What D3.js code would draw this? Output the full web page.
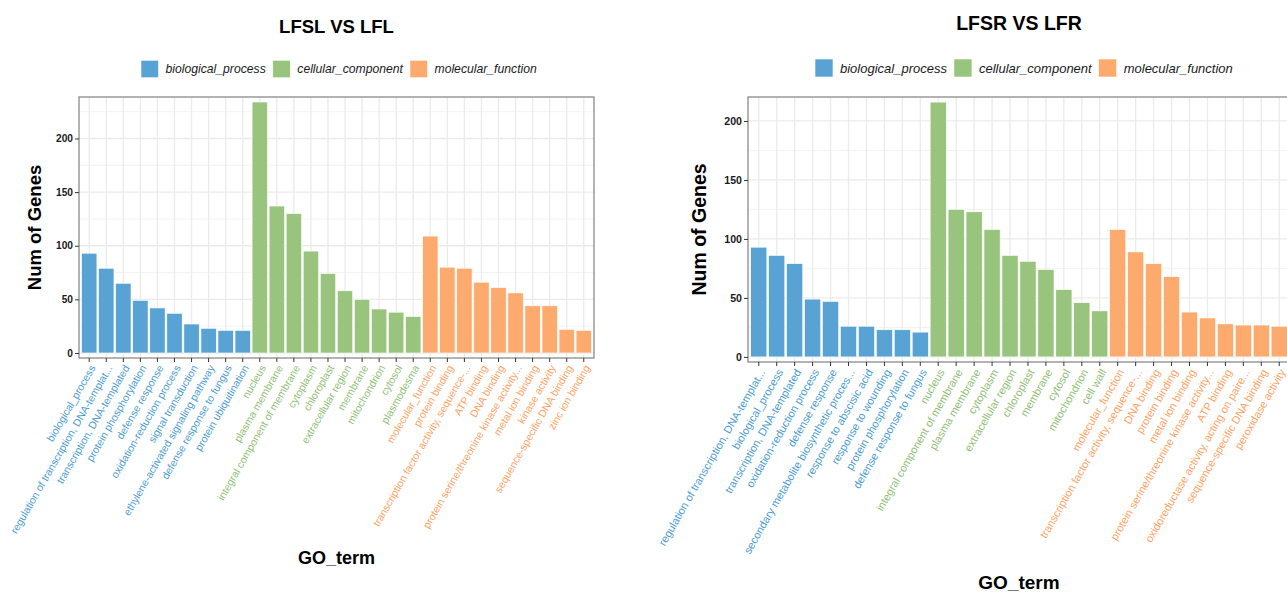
<!DOCTYPE html>
<html>
<head>
<meta charset="utf-8">
<script src="https://cdn.jsdelivr.net/npm/d3@7/dist/d3.min.js"></script>
<style>
  html, body { margin: 0; padding: 0; background: #fff; overflow: hidden; }
  svg { display: block; font-family: "Liberation Sans", Arial, Helvetica, sans-serif; }
</style>
</head>
<body>
<svg id="chart" width="1287" height="592"></svg>
<script>
// ---------------- DATA ----------------
const ontologies = ["biological_process", "cellular_component", "molecular_function"];

const titleLeft = "LFSL VS LFL";
const termsLeft = [
  "biological_process", "regulation of transcription, DNA-templat...", "transcription, DNA-templated",
  "protein phosphorylation", "defense response", "oxidation-reduction process", "signal transduction",
  "ethylene-activated signaling pathway", "defense response to fungus", "protein ubiquitination",
  "nucleus", "plasma membrane", "integral component of membrane", "cytoplasm", "chloroplast",
  "extracellular region", "membrane", "mitochondrion", "cytosol", "plasmodesma",
  "molecular_function", "protein binding", "transcription factor activity, sequence-...", "ATP binding",
  "DNA binding", "protein serine/threonine kinase activity...", "metal ion binding", "kinase activity",
  "sequence-specific DNA binding", "zinc ion binding"
];
const countsLeft = [93, 79, 65, 49, 42, 37, 27, 23, 21, 21,
                    234, 137, 130, 95, 74, 58, 50, 41, 38, 34,
                    109, 80, 79, 66, 61, 56, 44, 44, 22, 21];
const groupLeft = [
  "biological_process", "biological_process", "biological_process", "biological_process", "biological_process",
  "biological_process", "biological_process", "biological_process", "biological_process", "biological_process",
  "cellular_component", "cellular_component", "cellular_component", "cellular_component", "cellular_component",
  "cellular_component", "cellular_component", "cellular_component", "cellular_component", "cellular_component",
  "molecular_function", "molecular_function", "molecular_function", "molecular_function", "molecular_function",
  "molecular_function", "molecular_function", "molecular_function", "molecular_function", "molecular_function"
];

const titleRight = "LFSR VS LFR";
const termsRight = [
  "regulation of transcription, DNA-templat...", "biological_process", "transcription, DNA-templated",
  "oxidation-reduction process", "defense response", "secondary metabolite biosynthetic proces...",
  "response to abscisic acid", "response to wounding", "protein phosphorylation", "defense response to fungus",
  "nucleus", "integral component of membrane", "plasma membrane", "cytoplasm", "extracellular region",
  "chloroplast", "membrane", "cytosol", "mitochondrion", "cell wall",
  "molecular_function", "transcription factor activity, sequence-...", "DNA binding", "protein binding",
  "metal ion binding", "protein serine/threonine kinase activity...", "ATP binding",
  "oxidoreductase activity, acting on paire...", "sequence-specific DNA binding", "peroxidase activity"
];
const countsRight = [93, 86, 79, 49, 47, 26, 26, 23, 23, 21,
                     216, 125, 123, 108, 86, 81, 74, 57, 46, 39,
                     108, 89, 79, 68, 38, 33, 28, 27, 27, 26];
const groupRight = groupLeft.slice();

const yTicks = [0, 50, 100, 150, 200];
const yMinorTicks = [25, 75, 125, 175, 225];

// ---------------- STYLE / LAYOUT ----------------
const color = d3.scaleOrdinal().domain(ontologies).range(["#58A3D3", "#98C47E", "#FDAA6E"]);
const labelColor = d3.scaleOrdinal().domain(ontologies).range(["#4A9BD2", "#8EC073", "#FDA263"]);
const svg = d3.select("#chart");

const layouts = [
  { title: titleLeft, terms: termsLeft, counts: countsLeft, groups: groupLeft,
    x0: 79, x1: 594, y0: 97, y1: 358,
    titleY: 33, titleSize: 18.5, legendX: 141, legendY: 69, legendSq: 17.5, legendFont: 12.2,
    yTickFont: 10.2, xTickFont: 10.5, yTitleX: 34, yTitleSize: 18.5, xTitleY: 558, xTitleSize: 18 },
  { title: titleRight, terms: termsRight, counts: countsRight, groups: groupRight,
    x0: 748, x1: 1290, y0: 97, y1: 362,
    titleY: 30, titleSize: 19.5, legendX: 815, legendY: 68, legendSq: 18, legendFont: 13,
    yTickFont: 10.6, xTickFont: 11, yTitleX: 699, yTitleSize: 19.5, xTitleY: 582, xTitleSize: 19 }
];

layouts.forEach(L => {
  const g = svg.append("g");
  const maxV = d3.max(L.counts);
  const y = d3.scaleLinear().domain([-0.02 * maxV, 1.02 * maxV]).range([L.y1, L.y0]);
  const x = d3.scaleBand().domain(L.terms).range([L.x0, L.x1]).paddingInner(0.1).paddingOuter(0.15);
  const cx = d => x(d) + x.bandwidth() / 2;
  const [dlo, dhi] = y.domain();

  // panel background + grid
  g.append("rect").attr("x", L.x0).attr("y", L.y0).attr("width", L.x1 - L.x0).attr("height", L.y1 - L.y0)
    .attr("fill", "#fff");
  g.selectAll(".hminor").data(yMinorTicks.filter(v => v > dlo && v < dhi)).join("line")
    .attr("x1", L.x0).attr("x2", L.x1).attr("y1", d => y(d)).attr("y2", d => y(d))
    .attr("stroke", "#F0F0F0").attr("stroke-width", 0.8);
  g.selectAll(".hmajor").data(yTicks).join("line")
    .attr("x1", L.x0).attr("x2", L.x1).attr("y1", d => y(d)).attr("y2", d => y(d))
    .attr("stroke", "#EBEBEB").attr("stroke-width", 1.3);
  g.selectAll(".vmajor").data(L.terms).join("line")
    .attr("x1", cx).attr("x2", cx).attr("y1", L.y0).attr("y2", L.y1)
    .attr("stroke", "#EBEBEB").attr("stroke-width", 1.3);

  // bars
  g.selectAll(".bar").data(L.terms.map((t, i) => ({ t, v: L.counts[i], grp: L.groups[i] }))).join("rect")
    .attr("x", d => x(d.t)).attr("width", x.bandwidth())
    .attr("y", d => y(d.v)).attr("height", d => y(0) - y(d.v))
    .attr("fill", d => color(d.grp)).attr("stroke", "#fff").attr("stroke-width", 0.6);

  // panel border
  g.append("rect").attr("x", L.x0).attr("y", L.y0).attr("width", L.x1 - L.x0).attr("height", L.y1 - L.y0)
    .attr("fill", "none").attr("stroke", "#8a8a8a").attr("stroke-width", 1.3);

  // y axis
  const yAxis = g.append("g").attr("transform", `translate(${L.x0},0)`)
    .call(d3.axisLeft(y).tickValues(yTicks).tickSize(4).tickPadding(2));
  yAxis.select(".domain").remove();
  yAxis.selectAll(".tick line").attr("stroke", "#333");
  yAxis.selectAll("text").attr("font-size", L.yTickFont).attr("font-weight", "bold")
    .attr("fill", "#1a1a1a").attr("font-family", "Liberation Sans, Arial, sans-serif");

  // x axis ticks
  const xAxis = g.append("g").attr("transform", `translate(0,${L.y1})`)
    .call(d3.axisBottom(x).tickSize(4).tickFormat(""));
  xAxis.select(".domain").remove();
  xAxis.selectAll(".tick line").attr("stroke", "#333");

  // x tick labels (rotated)
  g.selectAll(".xlab").data(L.terms.map((t, i) => ({ t, grp: L.groups[i] }))).join("text")
    .attr("transform", d => `translate(${cx(d.t)},${L.y1 + 6}) rotate(-60)`)
    .attr("text-anchor", "end").attr("dy", "0.72em")
    .attr("font-size", L.xTickFont).attr("fill", d => labelColor(d.grp))
    .text(d => d.t);

  // titles
  const pc = (L.x0 + L.x1) / 2;
  g.append("text").attr("x", pc).attr("y", L.titleY).attr("text-anchor", "middle")
    .attr("font-size", L.titleSize).attr("font-weight", "bold").attr("fill", "#000").text(L.title);
  g.append("text").attr("transform", `translate(${L.yTitleX},${(L.y0 + L.y1) / 2}) rotate(-90)`)
    .attr("text-anchor", "middle").attr("dominant-baseline", "central")
    .attr("font-size", L.yTitleSize).attr("font-weight", "bold").attr("fill", "#000").text("Num of Genes");
  g.append("text").attr("x", pc).attr("y", L.xTitleY).attr("text-anchor", "middle")
    .attr("dominant-baseline", "central")
    .attr("font-size", L.xTitleSize).attr("font-weight", "bold").attr("fill", "#000").text("GO_term");

  // legend
  let lx = L.legendX;
  ontologies.forEach(o => {
    g.append("rect").attr("x", lx).attr("y", L.legendY - L.legendSq / 2)
      .attr("width", L.legendSq).attr("height", L.legendSq).attr("fill", color(o))
      .attr("stroke", "#fff").attr("stroke-width", 0.6);
    lx += L.legendSq + 7;
    const t = g.append("text").attr("x", lx).attr("y", L.legendY).attr("dominant-baseline", "central")
      .attr("font-size", L.legendFont).attr("font-style", "italic").attr("fill", "#1a1a1a").text(o);
    lx += t.node().getComputedTextLength() + 7;
  });
});
</script>
</body>
</html>
